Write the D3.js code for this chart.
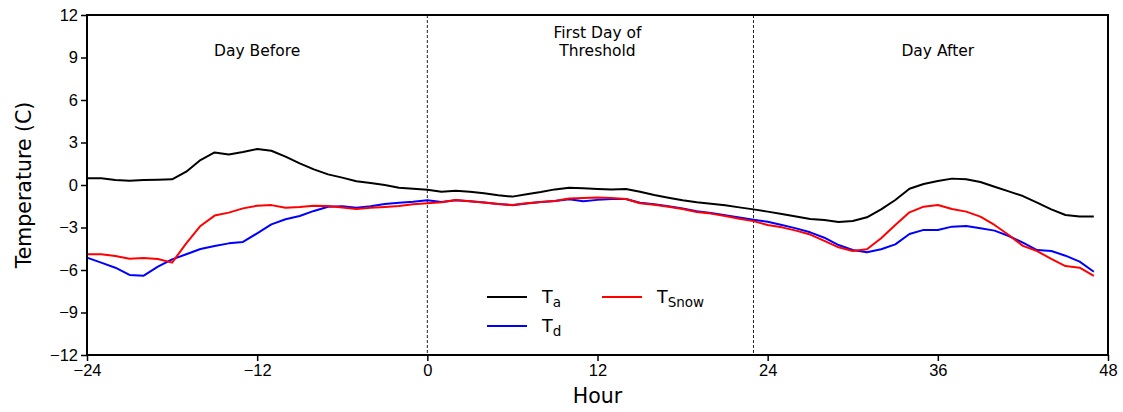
<!DOCTYPE html>
<html>
<head>
<meta charset="utf-8">
<script src="https://cdn.jsdelivr.net/npm/d3@7"></script>
<style>
  body { margin: 0; background: #fff; }
  svg { font-family: "DejaVu Sans", sans-serif; }
</style>
</head>
<body>
<div id="chart"></div>
<script>
// hourly values, hour -24 .. 47
var hours = d3.range(-24, 48);

var airTemp = [0.47, 0.47, 0.35, 0.3, 0.35, 0.37, 0.4, 0.94, 1.76, 2.3, 2.16, 2.33,
  2.54, 2.42, 2.0, 1.53, 1.1, 0.75, 0.52, 0.26, 0.14, 0.0, -0.19, -0.26,
  -0.33, -0.47, -0.4, -0.47, -0.59, -0.73, -0.82, -0.66, -0.5, -0.31, -0.19, -0.23,
  -0.28, -0.31, -0.28, -0.47, -0.7, -0.9, -1.08, -1.22, -1.32, -1.43, -1.58, -1.72,
  -1.88, -2.05, -2.23, -2.4, -2.47, -2.61, -2.54, -2.28, -1.72, -1.06, -0.26, 0.07,
  0.28, 0.45, 0.4, 0.21, -0.12, -0.45, -0.78, -1.25, -1.72, -2.12, -2.23, -2.23];

var dewTemp = [-5.13, -5.48, -5.84, -6.35, -6.4, -5.76, -5.25, -4.89, -4.52, -4.3, -4.12, -4.02,
  -3.41, -2.78, -2.42, -2.19, -1.83, -1.53, -1.5, -1.6, -1.5, -1.34, -1.25, -1.18,
  -1.08, -1.2, -1.08, -1.15, -1.24, -1.34, -1.43, -1.31, -1.2, -1.13, -1.0, -1.15,
  -1.05, -0.98, -0.99, -1.25, -1.36, -1.5, -1.66, -1.86, -1.98, -2.14, -2.3, -2.45,
  -2.59, -2.82, -3.06, -3.34, -3.72, -4.24, -4.59, -4.75, -4.54, -4.19, -3.46, -3.17,
  -3.17, -2.94, -2.89, -3.06, -3.22, -3.6, -4.07, -4.59, -4.66, -4.99, -5.41, -6.12];

var snowTemp = [-4.89, -4.89, -5.01, -5.2, -5.15, -5.22, -5.48, -4.12, -2.89, -2.16, -1.95, -1.65,
  -1.46, -1.42, -1.6, -1.55, -1.46, -1.48, -1.58, -1.69, -1.6, -1.55, -1.48, -1.36,
  -1.29, -1.22, -1.06, -1.15, -1.24, -1.34, -1.41, -1.29, -1.2, -1.13, -0.96, -0.92,
  -0.89, -0.92, -0.99, -1.29, -1.39, -1.53, -1.69, -1.9, -2.02, -2.19, -2.38, -2.55,
  -2.82, -2.99, -3.22, -3.5, -3.95, -4.4, -4.66, -4.54, -3.76, -2.82, -1.93, -1.53,
  -1.41, -1.69, -1.88, -2.23, -2.82, -3.53, -4.3, -4.66, -5.22, -5.72, -5.84, -6.42];

var xTicks = [-24, -12, 0, 12, 24, 36, 48];
var yTicks = [-12, -9, -6, -3, 0, 3, 6, 9, 12];
var dividers = [0, 23];
var periodLabels = [
  {hour: -12, lines: ["Day Before"]},
  {hour: 12, lines: ["First Day of", "Threshold"]},
  {hour: 36, lines: ["Day After"]}
];

var series = [
  {name: "a", values: airTemp, color: "#000000"},
  {name: "d", values: dewTemp, color: "#0000ff"},
  {name: "Snow", values: snowTemp, color: "#ff0000"}
];

var width = 1123, height = 412;
var margin = {top: 15, right: 15, bottom: 57, left: 87};
var w = width - margin.left - margin.right,
    h = height - margin.top - margin.bottom;

var svg = d3.select("#chart").append("svg")
    .attr("width", width)
    .attr("height", height);

var g = svg.append("g")
    .attr("transform", "translate(" + margin.left + "," + margin.top + ")");

var x = d3.scaleLinear().domain([-24, 48]).range([0, w]);
var y = d3.scaleLinear().domain([-12, 12]).range([h, 0]);

var fmt = function(d) { return d < 0 ? "\u2212" + Math.abs(d) : d; };

// axes
var xAxis = g.append("g")
    .attr("transform", "translate(0," + h + ")")
    .call(d3.axisBottom(x).tickValues(xTicks).tickSize(6).tickPadding(3).tickFormat(fmt));
var yAxis = g.append("g")
    .call(d3.axisLeft(y).tickValues(yTicks).tickSize(6).tickPadding(3).tickFormat(fmt));

[xAxis, yAxis].forEach(function(a) {
  a.select(".domain").remove();
  a.selectAll(".tick line").attr("stroke", "#000").attr("stroke-width", 1.5);
  a.selectAll(".tick text").attr("fill", "#000").style("font-size", "16.5px");
});

// dashed dividers
g.selectAll(".divider")
  .data(dividers)
.enter().append("line")
  .attr("class", "divider")
  .attr("x1", function(d) { return x(d); })
  .attr("x2", function(d) { return x(d); })
  .attr("y1", 0)
  .attr("y2", h)
  .attr("stroke", "#222")
  .attr("stroke-width", 1)
  .attr("stroke-dasharray", "3,2");

// period labels
periodLabels.forEach(function(p) {
  var t = g.append("text")
    .attr("x", x(p.hour))
    .attr("text-anchor", "middle")
    .style("font-size", "15.5px")
    .attr("fill", "#000");
  var y0 = p.lines.length == 1 ? 41 : 23;
  p.lines.forEach(function(line, i) {
    t.append("tspan").attr("x", x(p.hour)).attr("y", y0 + i * 18).text(line);
  });
});

// lines
var line = d3.line()
  .x(function(d, i) { return x(hours[i]); })
  .y(function(d) { return y(d); });

series.forEach(function(s) {
  g.append("path")
    .datum(s.values)
    .attr("fill", "none")
    .attr("stroke", s.color)
    .attr("stroke-width", 2)
    .attr("stroke-linejoin", "round")
    .attr("d", line);
});

// frame
g.append("rect")
  .attr("width", w)
  .attr("height", h)
  .attr("fill", "none")
  .attr("stroke", "#000")
  .attr("stroke-width", 2);

// legend
var legendPos = [
  {lx: 400, ly: 282},
  {lx: 400, ly: 311},
  {lx: 515, ly: 282}
];
series.forEach(function(s, i) {
  var p = legendPos[i];
  g.append("line")
    .attr("x1", p.lx).attr("x2", p.lx + 40)
    .attr("y1", p.ly).attr("y2", p.ly)
    .attr("stroke", s.color).attr("stroke-width", 2);
  var t = g.append("text")
    .attr("x", p.lx + 55).attr("y", p.ly + 6)
    .style("font-size", "17.5px").attr("fill", "#000");
  t.append("tspan").text("T");
  t.append("tspan").attr("dy", 4).style("font-size", "13.5px").text(s.name);
});

// axis labels
svg.append("text")
  .attr("x", margin.left + w / 2)
  .attr("y", 403)
  .attr("text-anchor", "middle")
  .style("font-size", "20.5px")
  .text("Hour");

svg.append("text")
  .attr("transform", "translate(31," + (margin.top + h / 2) + ") rotate(-90)")
  .attr("text-anchor", "middle")
  .style("font-size", "20.5px")
  .text("Temperature (C)");
</script>
</body>
</html>
